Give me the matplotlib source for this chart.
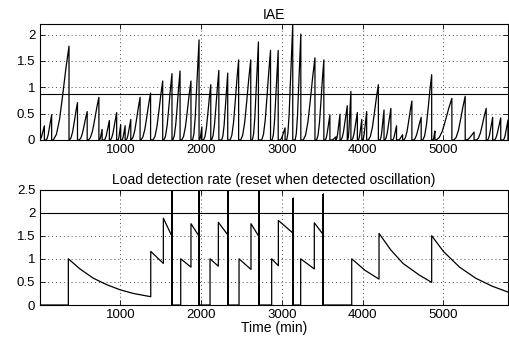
import matplotlib
matplotlib.use("Agg")
import matplotlib.pyplot as plt
import numpy as np

plt.rcParams['font.family'] = ['Liberation Sans', 'DejaVu Sans']

# ---- IAE teeth: start time, peak time, peak value
iae_start = [0, 80, 170, 370, 490, 605, 740, 800, 875, 970, 1020, 1070, 1135, 1255,
             1405, 1540, 1650, 1760, 1895, 1980, 2030, 2130, 2255, 2360, 2490, 2635,
             2750, 2880, 2975, 3060, 3165, 3265, 3430, 3535, 3615, 3670, 3730, 3815,
             3865, 3945, 4000, 4070, 4215, 4275, 4370, 4440, 4510, 4630, 4745, 4870,
             4910, 5130, 5280, 5410, 5545, 5630, 5740]
iae_peak_t = [60, 150, 365, 470, 590, 735, 775, 865, 955, 1005, 1060, 1130, 1245, 1375,
              1525, 1640, 1740, 1875, 1975, 2010, 2120, 2220, 2330, 2465, 2615, 2710,
              2860, 2955, 3040, 3135, 3235, 3410, 3520, 3595, 3670, 3720, 3810, 3855,
              3935, 3990, 4050, 4195, 4265, 4350, 4420, 4495, 4610, 4725, 4855, 4895,
              5105, 5270, 5380, 5530, 5610, 5710, 5800]
iae_peak = [0.27, 0.48, 1.78, 0.71, 0.54, 0.81, 0.2, 0.37, 0.52, 0.29, 0.27, 0.39, 0.81, 0.89,
            1.12, 1.26, 1.31, 1.12, 1.9, 0.25, 1.05, 1.32, 1.27, 1.52, 1.52, 1.86,
            1.70, 1.70, 0.23, 2.19, 2.01, 1.56, 1.52, 0.48, 0.06, 0.49, 0.65, 0.92,
            0.52, 0.39, 0.54, 1.05, 0.57, 0.6, 0.27, 0.1, 0.74, 0.43, 1.24, 0.17,
            0.79, 0.83, 0.15, 0.6, 0.43, 0.42, 0.38]
# rise profile of one tooth (fraction of duration -> fraction of peak)
tooth_frac = [0, 0.2, 0.4, 0.6, 0.8, 1.0]
tooth_shape = [0, 0.06, 0.22, 0.48, 0.76, 1.0]
iae_threshold = 0.88

# ---- load detection rate path (time, value)
rate_t = [0, 357, 357, 501, 666, 832, 997, 1161, 1377, 1377, 1533, 1533, 1636, 1636, 1636,
          1748, 1748, 1875, 1875, 1975, 1975, 1975, 2111, 2111, 2214, 2214, 2330, 2330, 2330,
          2470, 2470, 2618, 2618, 2720, 2720, 2720, 2874, 2874, 2957, 2957, 3142, 3142, 3142,
          3233, 3233, 3402, 3402, 3514, 3514, 3514, 3865, 3865, 4030, 4203, 4203, 4350,
          4500, 4700, 4855, 4855, 5000, 5200, 5400, 5600, 5800]
rate_v = [0, 0, 1.0, 0.78, 0.58, 0.44, 0.33, 0.25, 0.18, 1.16, 0.9, 1.88, 1.5, 2.53, 0,
          0, 1.0, 0.82, 1.76, 1.49, 2.53, 0, 0, 1.0, 0.84, 1.79, 1.52, 2.53, 0,
          0, 1.0, 0.77, 1.76, 1.47, 2.53, 0, 0, 1.0, 0.85, 1.83, 1.55, 2.31, 0,
          0, 1.0, 0.78, 1.78, 1.52, 2.4, 0, 0, 1.0, 0.75, 0.56, 1.55, 1.19,
          0.9, 0.65, 0.49, 1.5, 1.16, 0.82, 0.58, 0.41, 0.28]
spike_t = [1636, 1975, 2330, 2720, 3142, 3514]
spike_top = [2.53, 2.53, 2.53, 2.53, 2.31, 2.4]
rate_threshold = 2.0

xticks = [1000, 2000, 3000, 4000, 5000]


def build_iae():
    xs, ys = [], []
    for s, p, v in zip(iae_start, iae_peak_t, iae_peak):
        for f, sh in zip(tooth_frac, tooth_shape):
            xs.append(s + f * (p - s))
            ys.append(sh * v)
        xs.append(p)
        ys.append(0)
    return xs, ys


def style(ax):
    ax.grid(True, linestyle=(0, (1, 3)), color='0.3', linewidth=0.7)
    ax.tick_params(direction='in', length=3.5, top=True, right=True,
                   labelsize=9.5, width=0.6, pad=3)
    for sp in ax.spines.values():
        sp.set_linewidth(0.8)
    ax.set_xlim(0, 5800)
    ax.set_xticks(xticks)


fig = plt.figure(figsize=(5.1, 3.38), dpi=100)
ax1 = fig.add_axes([0.0775, 0.5858, 0.9186, 0.343])
ax2 = fig.add_axes([0.0775, 0.0976, 0.9186, 0.3417])

x, y = build_iae()
ax1.plot(x, y, color='k', lw=0.9)
ax1.axhline(iae_threshold, color='k', lw=0.8)
ax1.set_ylim(0, 2.2)
ax1.set_yticks([0, 0.5, 1, 1.5, 2])
ax1.set_yticklabels(['0', '0.5', '1', '1.5', '2'])
ax1.set_title('IAE', fontsize=10, pad=4)
style(ax1)

ax2.plot(rate_t, rate_v, color='k', lw=0.9)
ax2.vlines(spike_t, 0, spike_top, color='k', lw=1.4)
ax2.axhline(rate_threshold, color='k', lw=0.8)
ax2.set_ylim(0, 2.5)
ax2.set_yticks([0, 0.5, 1, 1.5, 2, 2.5])
ax2.set_yticklabels(['0', '0.5', '1', '1.5', '2', '2.5'])
ax2.set_title('Load detection rate (reset when detected oscillation)', fontsize=10, pad=4)
ax2.set_xlabel('Time (min)', fontsize=10, labelpad=0)
style(ax2)

fig.savefig('out.png', dpi=100)
